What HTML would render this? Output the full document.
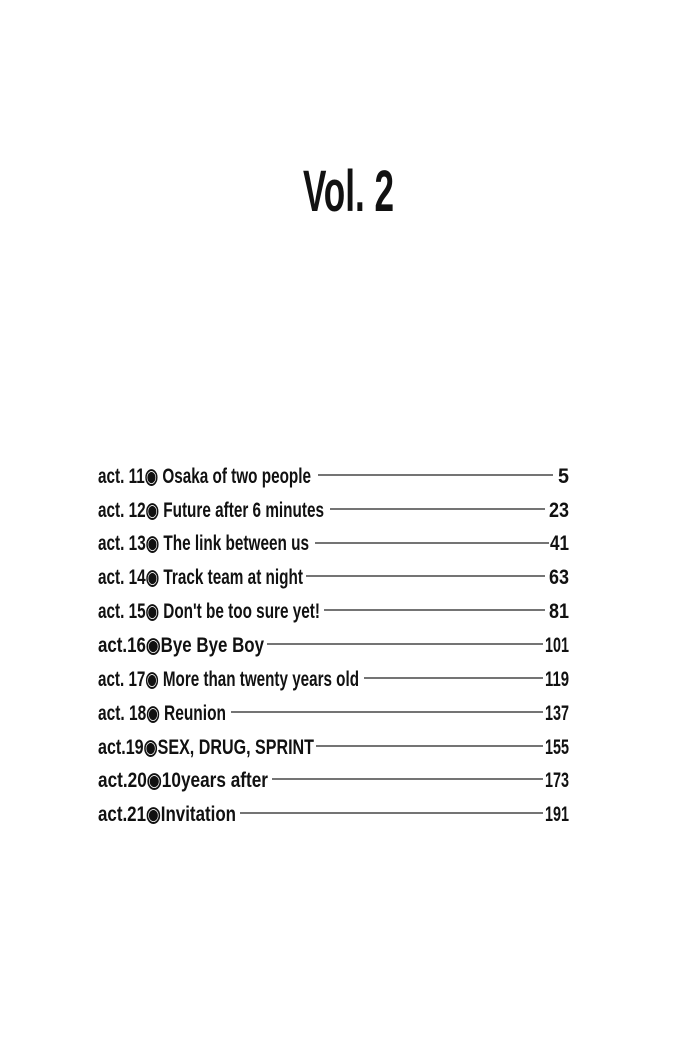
<!DOCTYPE html>
<html><head><meta charset="utf-8"><style>
html,body{margin:0;padding:0;background:#fff;}
svg{display:block}
text{font-family:"Liberation Sans",sans-serif;font-weight:bold;fill:#111;}
</style></head><body>
<svg width="696" height="1040" viewBox="0 0 696 1040" xmlns="http://www.w3.org/2000/svg">
<text x="303" y="211" font-size="58" textLength="91" lengthAdjust="spacingAndGlyphs">Vol. 2</text>
<g font-size="21" stroke="#222" stroke-width="1.3">
<text x="98" y="483" textLength="213" lengthAdjust="spacingAndGlyphs" stroke="none">act. 11◉ Osaka of two people</text>
<line x1="318" y1="475" x2="553" y2="475"/>
<text x="558" y="483" textLength="11" lengthAdjust="spacingAndGlyphs" stroke="none">5</text>

<text x="98" y="517" textLength="226" lengthAdjust="spacingAndGlyphs" stroke="none">act. 12◉ Future after 6 minutes</text>
<line x1="330" y1="509" x2="545" y2="509"/>
<text x="549" y="517" textLength="20" lengthAdjust="spacingAndGlyphs" stroke="none">23</text>

<text x="98" y="550" textLength="211" lengthAdjust="spacingAndGlyphs" stroke="none">act. 13◉ The link between us</text>
<line x1="315" y1="543" x2="549" y2="543"/>
<text x="550" y="550" textLength="19" lengthAdjust="spacingAndGlyphs" stroke="none">41</text>

<text x="98" y="584" textLength="205" lengthAdjust="spacingAndGlyphs" stroke="none">act. 14◉ Track team at night</text>
<line x1="306" y1="576" x2="545" y2="576"/>
<text x="549" y="584" textLength="20" lengthAdjust="spacingAndGlyphs" stroke="none">63</text>

<text x="98" y="618" textLength="222" lengthAdjust="spacingAndGlyphs" stroke="none">act. 15◉ Don't be too sure yet!</text>
<line x1="324" y1="610" x2="545" y2="610"/>
<text x="549" y="618" textLength="20" lengthAdjust="spacingAndGlyphs" stroke="none">81</text>

<text x="98" y="652" textLength="166" lengthAdjust="spacingAndGlyphs" stroke="none">act.16◉Bye Bye Boy</text>
<line x1="267" y1="644" x2="543" y2="644"/>
<text x="545" y="652" textLength="24" lengthAdjust="spacingAndGlyphs" stroke="none">101</text>

<text x="98" y="686" textLength="261" lengthAdjust="spacingAndGlyphs" stroke="none">act. 17◉ More than twenty years old</text>
<line x1="364" y1="678" x2="543" y2="678"/>
<text x="545" y="686" textLength="24" lengthAdjust="spacingAndGlyphs" stroke="none">119</text>

<text x="98" y="720" textLength="128" lengthAdjust="spacingAndGlyphs" stroke="none">act. 18◉ Reunion</text>
<line x1="231" y1="712" x2="543" y2="712"/>
<text x="545" y="720" textLength="24" lengthAdjust="spacingAndGlyphs" stroke="none">137</text>

<text x="98" y="754" textLength="216" lengthAdjust="spacingAndGlyphs" stroke="none">act.19◉SEX, DRUG, SPRINT</text>
<line x1="316" y1="746" x2="543" y2="746"/>
<text x="545" y="754" textLength="24" lengthAdjust="spacingAndGlyphs" stroke="none">155</text>

<text x="98" y="787" textLength="170" lengthAdjust="spacingAndGlyphs" stroke="none">act.20◉10years after</text>
<line x1="272" y1="779" x2="543" y2="779"/>
<text x="545" y="787" textLength="24" lengthAdjust="spacingAndGlyphs" stroke="none">173</text>

<text x="98" y="821" textLength="138" lengthAdjust="spacingAndGlyphs" stroke="none">act.21◉Invitation</text>
<line x1="240" y1="813" x2="543" y2="813"/>
<text x="545" y="821" textLength="24" lengthAdjust="spacingAndGlyphs" stroke="none">191</text>
</g>
</svg>
</body></html>
